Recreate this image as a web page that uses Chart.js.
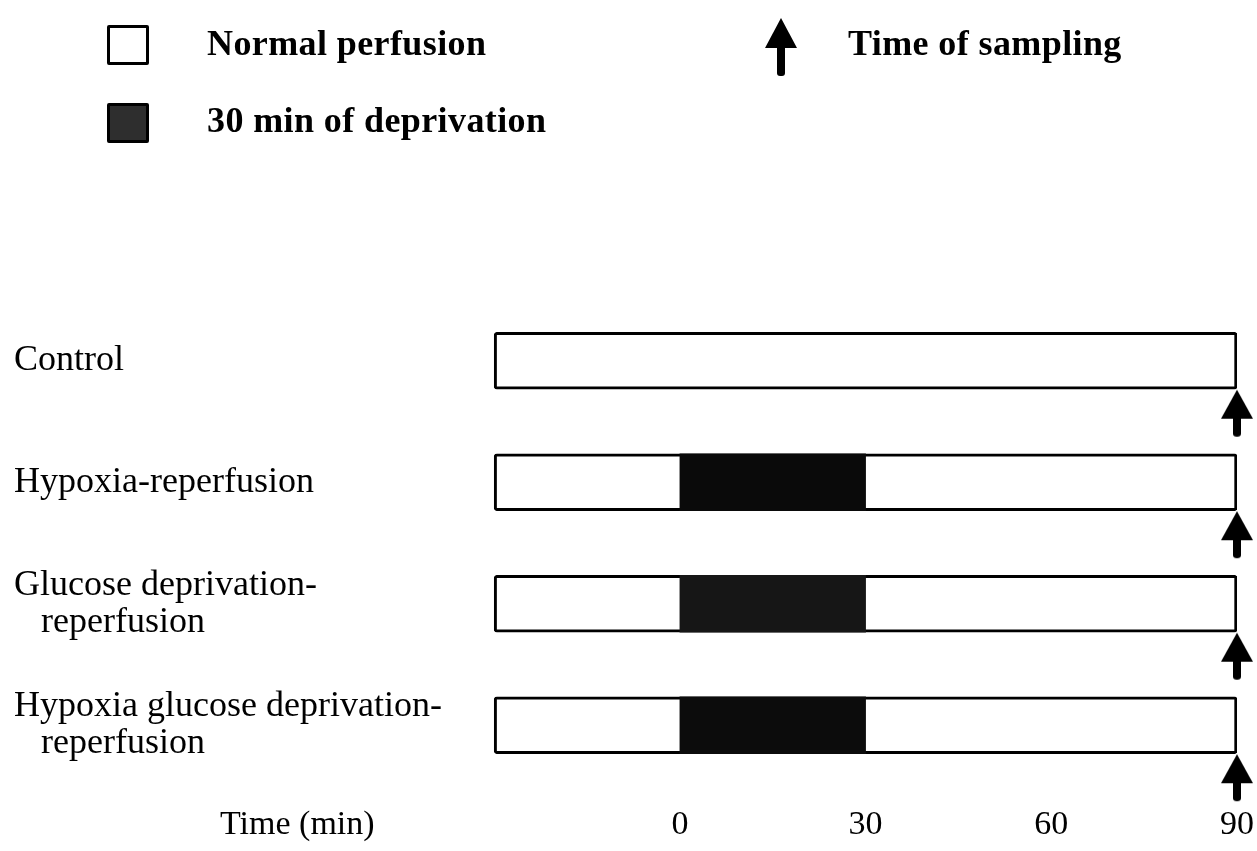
<!DOCTYPE html>
<html>
<head>
    <title>Perfusion protocol</title>
    <meta charset="utf-8" />
    <script src="https://cdn.jsdelivr.net/npm/chart.js"></script>
    <style>
        body { margin: 0; background: #fff; font-family: 'Liberation Serif', 'Times New Roman', serif; }
        #wrap { position: relative; width: 1257px; height: 851px; }
        .lg { position: absolute; font-weight: bold; font-size: 36px; letter-spacing: 0.4px; line-height: 1; color: #000; white-space: nowrap; }
        .box { position: absolute; width: 36px; height: 34px; border: 3px solid #000; border-radius: 2px; background: #fff; }
        .box.dark { background: #2e2e2e; }
        .head { position: absolute; width: 0; height: 0; border-left: 16px solid transparent; border-right: 16px solid transparent; border-bottom: 30px solid #000; }
        .stem { position: absolute; width: 8px; height: 30px; background: #000; border-radius: 0 0 3px 3px; }
    </style>
</head>
<body>
    <div id="wrap">
        <canvas id="myChart"></canvas>
        <div class="box" style="left:107px; top:25px;"></div>
        <div class="lg" style="left:207px; top:25px;">Normal perfusion</div>
        <div class="box dark" style="left:107px; top:103px;"></div>
        <div class="lg" style="left:207px; top:102px;">30 min of deprivation</div>
        <div class="head" style="left:765px; top:18px;"></div>
        <div class="stem" style="left:777px; top:46px;"></div>
        <div class="lg" style="left:848px; top:25px;">Time of sampling</div>
    </div>
    <script>
        // protocol groups (rows), times in minutes
        var categories = [
            'Control',
            'Hypoxia-reperfusion',
            ['Glucose deprivation-', '   reperfusion'],
            ['Hypoxia glucose deprivation-', '   reperfusion']
        ];
        var perfusionStart = [-30, -30, -30, -30];
        var perfusionEnd = [90, 90, 90, 90];
        var deprivationStart = [null, 0, 0, 0];
        var deprivationEnd = [null, 30, 30, 30];
        var samplingTime = [90, 90, 90, 90];
        var timeTicks = [0, 30, 60, 90];
        var axisTitle = 'Time (min)';

        var serif = "'Liberation Serif', 'Times New Roman', serif";

        // arrow used as the point style for the sampling marks (drawn below the bar)
        function makeArrow() {
            var c = document.createElement('canvas');
            c.width = 34; c.height = 154;
            var g = c.getContext('2d');
            var cy = 77;
            g.fillStyle = '#000';
            g.beginPath();
            g.moveTo(17, cy + 29);
            g.lineTo(1, cy + 58);
            g.lineTo(33, cy + 58);
            g.closePath();
            g.fill();
            g.beginPath();
            g.moveTo(13, cy + 56);
            g.lineTo(21, cy + 56);
            g.lineTo(21, cy + 73);
            g.quadraticCurveTo(21, cy + 76, 17, cy + 76);
            g.quadraticCurveTo(13, cy + 76, 13, cy + 73);
            g.closePath();
            g.fill();
            return c;
        }

        var axisNote = {
            id: 'axisNote',
            afterDraw: function (chart) {
                var ctx = chart.ctx;
                var x = chart.scales.x;
                ctx.save();
                ctx.font = '34px ' + serif;
                ctx.fillStyle = '#000';
                ctx.textBaseline = 'middle';
                ctx.textAlign = 'left';
                ctx.fillText(axisTitle, 220, x.top + 19 + 20.4);
                ctx.restore();
            }
        };

        var ctx = document.getElementById('myChart').getContext('2d');
        var myChart = new Chart(ctx, {
            type: 'bar',
            data: {
                labels: categories,
                datasets: [{
                    label: '30 min of deprivation',
                    data: deprivationStart.map(function (s, i) { return s === null ? null : [s, deprivationEnd[i]]; }),
                    backgroundColor: ['#000', '#0a0a0a', '#161616', '#0c0c0c'],
                    borderWidth: 0,
                    barThickness: 57,
                    grouped: false,
                    order: 1
                }, {
                    label: 'Normal perfusion',
                    data: perfusionStart.map(function (s, i) { return [s, perfusionEnd[i]]; }),
                    backgroundColor: '#fff',
                    borderColor: '#000',
                    borderWidth: 3,
                    borderSkipped: false,
                    borderRadius: 3,
                    barThickness: 57,
                    grouped: false,
                    order: 2
                }, {
                    type: 'line',
                    label: 'Time of sampling',
                    data: samplingTime,
                    showLine: false,
                    pointStyle: makeArrow(),
                    pointRadius: 5,
                    clip: false,
                    order: 0
                }]
            },
            options: {
                indexAxis: 'y',
                responsive: true,
                maintainAspectRatio: false,
                animation: false,
                events: [],
                layout: { padding: { top: 300, left: 14, right: 20, bottom: 8 } },
                plugins: {
                    legend: { display: false },
                    tooltip: { enabled: false }
                },
                scales: {
                    x: {
                        type: 'linear',
                        min: -31,
                        max: 90,
                        afterBuildTicks: function (scale) {
                            scale.ticks = timeTicks.map(function (v) { return { value: v }; });
                        },
                        afterFit: function (scale) {
                            scale.height = 57;
                            scale.paddingLeft = 0;
                            scale.paddingRight = 0;
                        },
                        grid: { display: false, drawTicks: false },
                        border: { display: false },
                        ticks: {
                            color: '#000',
                            padding: 19,
                            font: { family: serif, size: 34, lineHeight: 1.2 }
                        }
                    },
                    y: {
                        afterFit: function (scale) {
                            scale.width = 474;
                            scale.paddingTop = 0;
                            scale.paddingBottom = 0;
                        },
                        grid: { display: false, drawTicks: false },
                        border: { display: false },
                        ticks: {
                            color: '#000',
                            crossAlign: 'far',
                            padding: 0,
                            font: { family: serif, size: 36, lineHeight: 1.02 }
                        }
                    }
                }
            },
            plugins: [axisNote]
        });
    </script>
</body>
</html>
